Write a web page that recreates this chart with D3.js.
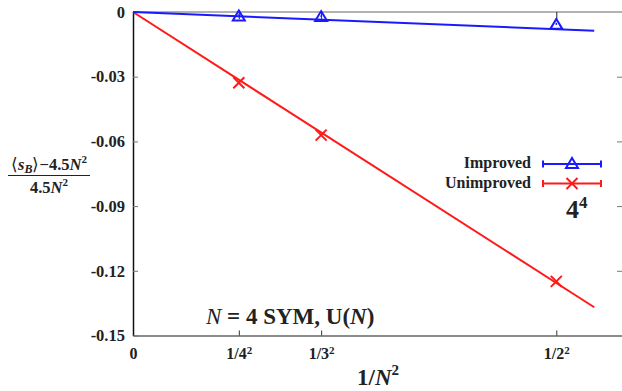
<!DOCTYPE html>
<html>
<head>
<meta charset="utf-8">
<script src="https://cdn.jsdelivr.net/npm/d3@7"></script>
<style>
  body { margin: 0; background: #fff; }
  text { font-family: "Liberation Serif", "Times New Roman", serif; font-weight: bold; }
</style>
</head>
<body>
<div id="chart"></div>
<script>
// x positions of the lattice points (1/N^2)
const invN2 = [1 / 16, 1 / 9, 1 / 4];
// relative deviation of <s_B> from 4.5 N^2
const improved = [-0.0016, -0.0019, -0.0055];
const improvedErr = [0.0004, 0.0004, 0.0005];
const unimproved = [-0.0328, -0.0571, -0.1249];
// straight-line fits through the origin
const improvedFit = [[0, 0], [0.2724, -0.00867]];
const unimprovedFit = [[0, 0], [0.2724, -0.1369]];

const xTickVals = [0, 1 / 16, 1 / 9, 1 / 4];
const xTickBase = ["0", "1/4", "1/3", "1/2"];
const xTickSup = ["", "2", "2", "2"];
const yTickVals = [0, -0.03, -0.06, -0.09, -0.12, -0.15];
const yTickLabels = ["0", "-0.03", "-0.06", "-0.09", "-0.12", "-0.15"];

const blue = "#1a1aff";
const red = "#ff1a1a";

const W = 622, H = 391;
const margin = {top: 12, right: 0, bottom: 55.5, left: 133};
const width = W - margin.left - margin.right;
const height = H - margin.top - margin.bottom;

const svg = d3.select("#chart").append("svg")
    .attr("width", W)
    .attr("height", H);

const g = svg.append("g")
    .attr("transform", `translate(${margin.left},${margin.top})`);

const x = d3.scaleLinear().domain([0, 0.2888]).range([0, width]);
const y = d3.scaleLinear().domain([-0.15, 0]).range([height, 0]);

// frame: top grey line
g.append("line").attr("x1", 0).attr("x2", width).attr("y1", 0).attr("y2", 0)
    .attr("stroke", "#999").attr("stroke-width", 1.5);

// bottom axis (ticks inward)
const xAxis = g.append("g")
    .attr("transform", `translate(0,${height})`)
    .call(d3.axisBottom(x).tickValues(xTickVals)
        .tickFormat((d, i) => xTickBase[i])
        .tickSizeInner(-5).tickSizeOuter(0).tickPadding(12));
xAxis.select(".domain").attr("stroke", "#666").attr("stroke-width", 1.5);
xAxis.selectAll(".tick line").attr("stroke", "#333");
xAxis.selectAll("text").attr("font-size", 16).attr("fill", "#222")
    .attr("font-family", "Liberation Serif").attr("font-weight", "bold")
    .each(function(d, i) {
        if (xTickSup[i]) {
            d3.select(this).append("tspan").attr("font-size", 11).attr("dy", "-0.45em").text(xTickSup[i]);
        }
    });

// top mirror ticks
g.append("g")
    .call(d3.axisTop(x).tickValues(xTickVals.slice(1)).tickFormat("")
        .tickSizeInner(-7).tickSizeOuter(0))
    .call(a => a.select(".domain").remove())
    .selectAll(".tick line").attr("stroke", "#222");

// left axis
const yAxis = g.append("g")
    .call(d3.axisLeft(y).tickValues(yTickVals)
        .tickFormat((d, i) => yTickLabels[i])
        .tickSizeInner(-5).tickSizeOuter(0).tickPadding(8));
yAxis.select(".domain").attr("stroke", "#111").attr("stroke-width", 1.5);
yAxis.selectAll(".tick line").attr("stroke", "#777");
yAxis.selectAll("text").attr("font-size", 16.5).attr("fill", "#222")
    .attr("font-family", "Liberation Serif").attr("font-weight", "bold");

// right mirror ticks
g.append("g")
    .attr("transform", `translate(${width},0)`)
    .call(d3.axisRight(y).tickValues(yTickVals.slice(1, 5)).tickFormat("")
        .tickSizeInner(-5).tickSizeOuter(0))
    .call(a => a.select(".domain").remove())
    .selectAll(".tick line").attr("stroke", "#777");

// fit lines
const line = d3.line().x(d => x(d[0])).y(d => y(d[1]));
g.append("path").datum(unimprovedFit).attr("d", line)
    .attr("fill", "none").attr("stroke", red).attr("stroke-width", 2);
g.append("path").datum(improvedFit).attr("d", line)
    .attr("fill", "none").attr("stroke", blue).attr("stroke-width", 2);

// markers
function triangle(cx, cy) {
    return `M${cx - 6},${cy + 5}L${cx + 6},${cy + 5}L${cx},${cy - 5}Z`;
}
function cross(sel, cx, cy, color) {
    sel.append("path")
        .attr("d", `M${cx - 5.5},${cy - 5.5}L${cx + 5.5},${cy + 5.5}M${cx - 5.5},${cy + 5.5}L${cx + 5.5},${cy - 5.5}`)
        .attr("stroke", color).attr("stroke-width", 2).attr("fill", "none");
}

const impData = invN2.map((v, i) => ({x: v, y: improved[i], e: improvedErr[i]}));
const unData = invN2.map((v, i) => ({x: v, y: unimproved[i]}));

g.selectAll(".err").data(impData).enter().append("line")
    .attr("x1", d => x(d.x)).attr("x2", d => x(d.x))
    .attr("y1", d => y(d.y + d.e)).attr("y2", d => y(d.y - d.e))
    .attr("stroke", blue).attr("stroke-width", 1.5);
g.selectAll(".tri").data(impData).enter().append("path")
    .attr("d", d => triangle(x(d.x), y(d.y)))
    .attr("fill", "none").attr("stroke", blue).attr("stroke-width", 2);
unData.forEach(d => cross(g, x(d.x), y(d.y), red));

// legend
const legend = svg.append("g");
const legItems = [
    {label: "Improved", color: blue, ly: 164, ty: 168, kind: "tri"},
    {label: "Unimproved", color: red, ly: 183.5, ty: 188, kind: "x"}
];
legItems.forEach(d => {
    legend.append("text").attr("x", 531).attr("y", d.ty)
        .attr("text-anchor", "end").attr("font-size", 16).attr("fill", "#222")
        .text(d.label);
    legend.append("path")
        .attr("d", `M543,${d.ly}L601,${d.ly}M543,${d.ly - 3.5}L543,${d.ly + 3.5}M601,${d.ly - 3.5}L601,${d.ly + 3.5}`)
        .attr("stroke", d.color).attr("stroke-width", 2).attr("fill", "none");
    if (d.kind === "tri") {
        legend.append("path").attr("d", triangle(572, d.ly - 1))
            .attr("fill", "none").attr("stroke", d.color).attr("stroke-width", 2);
    } else {
        cross(legend, 572, d.ly, d.color);
    }
});

// 4^4 lattice label
const lat = svg.append("text").attr("x", 566).attr("y", 218)
    .attr("font-size", 26).attr("fill", "#222");
lat.append("tspan").text("4");
lat.append("tspan").attr("font-size", 17).attr("dy", -10).text("4");

// model annotation
const ann = svg.append("text").attr("x", 206).attr("y", 324)
    .attr("font-size", 23).attr("fill", "#222");
ann.append("tspan").attr("font-style", "italic").attr("font-weight", "normal").text("N");
ann.append("tspan").text(" = 4 SYM, U(");
ann.append("tspan").attr("font-style", "italic").text("N");
ann.append("tspan").text(")");

// x-axis title
const xt = svg.append("text").attr("x", 378).attr("y", 385)
    .attr("text-anchor", "middle").attr("font-size", 23).attr("fill", "#222");
xt.append("tspan").text("1/");
xt.append("tspan").attr("font-style", "italic").text("N");
xt.append("tspan").attr("font-size", 15).attr("dy", -10).text("2");

// y-axis title as a fraction
const yt = svg.append("g").attr("fill", "#222");
const num = yt.append("text").attr("x", 49).attr("y", 170)
    .attr("text-anchor", "middle").attr("font-size", 16.5);
num.append("tspan").attr("font-weight", "normal").text("\u27e8");
num.append("tspan").attr("font-style", "italic").text("s");
num.append("tspan").attr("font-style", "italic").attr("font-size", 12).attr("dy", 3).text("B");
num.append("tspan").attr("font-weight", "normal").attr("dy", -3).text("\u27e9");
num.append("tspan").text("\u22124.5");
num.append("tspan").attr("font-style", "italic").text("N");
num.append("tspan").attr("font-size", 11).attr("dy", -7).text("2");
yt.append("line").attr("x1", 8).attr("x2", 90).attr("y1", 175.5).attr("y2", 175.5)
    .attr("stroke", "#222").attr("stroke-width", 1.2);
const den = yt.append("text").attr("x", 49).attr("y", 192.5)
    .attr("text-anchor", "middle").attr("font-size", 16.5);
den.append("tspan").text("4.5");
den.append("tspan").attr("font-style", "italic").text("N");
den.append("tspan").attr("font-size", 11).attr("dy", -7).text("2");
</script>
</body>
</html>
